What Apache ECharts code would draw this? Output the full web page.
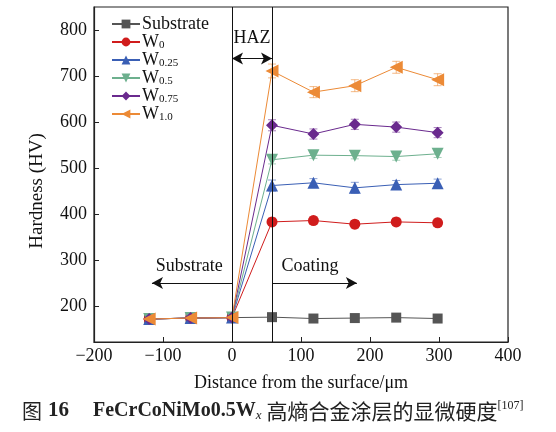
<!DOCTYPE html>
<html><head><meta charset="utf-8">
<script src="https://cdn.jsdelivr.net/npm/echarts@6/dist/echarts.min.js"></script>
<style>html,body{margin:0;padding:0;background:#fff}#c{width:556px;height:432px}</style>
</head><body><div id="c"></div>
<script>
const xPositions = [-120, -60, 0, 58, 118, 178, 238, 298];
const seriesNames = ['Substrate', 'W0', 'W0.25', 'W0.5', 'W0.75', 'W1.0'];
const substrate = [172, 174, 175, 176, 173, 174, 175, 173];
const w0    = [172, 174, 175, 383, 386, 378, 383, 381];
const w025  = [172, 174, 175, 462, 468, 457, 464, 467];
const w05   = [172, 174, 175, 518, 528, 527, 525, 531];
const w075  = [172, 174, 175, 593, 574, 595, 589, 577];
const w10   = [172, 174, 175, 711, 665, 679, 719, 692];
const errSubstrate = [4, 4, 4, 4, 4, 4, 4, 4];
const err0   = [4, 4, 4, 8, 8, 8, 8, 8];
const err025 = [4, 4, 4, 12, 9, 12, 9, 9];
const err05  = [4, 4, 4, 9, 7, 7, 8, 8];
const err075 = [4, 4, 4, 12, 11, 11, 11, 11];
const err10  = [4, 4, 4, 15, 12, 13, 13, 13];
const yTicks = [200, 300, 400, 500, 600, 700, 800];

const allValues = [substrate, w0, w025, w05, w075, w10];
const allErrors = [errSubstrate, err0, err025, err05, err075, err10];
const colors = ['#555555', '#d01c1c', '#3a5fb5', '#6db08e', '#6a2a8e', '#ec8a36'];
const symbols = ['rect', 'circle', 'triangle', 'triangle', 'diamond', 'triangle'];
const rotates = [0, 0, 0, 180, 0, 90];
const sizes = [10, 11, 12, 12, 12, 13];

const serif = '"Liberation Serif","DejaVu Serif",serif';

const series = [];
allValues.forEach((vals, i) => {
  series.push({
    type: 'custom',
    name: seriesNames[i] + '_err',
    silent: true,
    z: 1,
    data: xPositions.map((x, k) => [x, vals[k] - allErrors[i][k], vals[k] + allErrors[i][k]]),
    encode: { x: 0, y: [1, 2] },
    renderItem: (params, api) => {
      const lo = api.coord([api.value(0), api.value(1)]);
      const hi = api.coord([api.value(0), api.value(2)]);
      const w = 4;
      const st = { stroke: colors[i], lineWidth: 1, opacity: 0.6 };
      return { type: 'group', children: [
        { type: 'line', shape: { x1: lo[0], y1: lo[1], x2: hi[0], y2: hi[1] }, style: st },
        { type: 'line', shape: { x1: lo[0] - w, y1: lo[1], x2: lo[0] + w, y2: lo[1] }, style: st },
        { type: 'line', shape: { x1: hi[0] - w, y1: hi[1], x2: hi[0] + w, y2: hi[1] }, style: st }
      ]};
    }
  });
});
allValues.forEach((vals, i) => {
  series.push({
    type: 'line',
    name: seriesNames[i],
    data: xPositions.map((x, k) => [x, vals[k]]),
    symbol: symbols[i],
    symbolSize: sizes[i],
    symbolRotate: rotates[i],
    showAllSymbol: true,
    z: 3,
    lineStyle: { color: colors[i], width: 1 },
    itemStyle: { color: colors[i] },
    emphasis: { disabled: true }
  });
});

series.push({
  type: 'line',
  name: 'annot',
  data: [],
  silent: true,
  markLine: {
    silent: true,
    animation: false,
    symbol: ['none', 'none'],
    label: { show: false },
    lineStyle: { color: '#111', width: 1, type: 'solid' },
    data: [
      { xAxis: 0 },
      { xAxis: 58 },
      [{ coord: [0, 738], symbol: 'arrow', symbolSize: [9, 11] }, { coord: [58, 738], symbol: 'arrow', symbolSize: [9, 11] }],
      [{ coord: [0, 250], symbol: 'none' }, { coord: [-116, 250], symbol: 'arrow', symbolSize: [9, 11] }],
      [{ coord: [58, 250], symbol: 'none' }, { coord: [181, 250], symbol: 'arrow', symbolSize: [9, 11] }]
    ]
  },
  markPoint: {
    silent: true,
    animation: false,
    symbol: 'circle',
    symbolSize: 1,
    itemStyle: { color: 'rgba(0,0,0,0)' },
    label: { show: true, position: 'inside', color: '#111', fontFamily: serif, fontSize: 18, formatter: p => p.name },
    data: [
      { name: 'HAZ', coord: [29, 781] },
      { name: 'Substrate', coord: [-62, 286] },
      { name: 'Coating', coord: [113, 286] }
    ]
  }
});

const chart = echarts.init(document.getElementById('c'), null, { renderer: 'canvas' });
const legendFmt = {
  'Substrate': 'Substrate',
  'W0': '{m|W}{s|0}',
  'W0.25': '{m|W}{s|0.25}',
  'W0.5': '{m|W}{s|0.5}',
  'W0.75': '{m|W}{s|0.75}',
  'W1.0': '{m|W}{s|1.0}'
};
chart.setOption({
  animation: false,
  backgroundColor: '#fff',
  grid: { left: 94, right: 48, top: 7, bottom: 90, show: true, borderColor: '#222', borderWidth: 1.2 },
  legend: {
    data: seriesNames,
    orient: 'vertical',
    left: 108, top: 12,
    itemWidth: 28, itemHeight: 11, itemGap: 0,
    padding: 3,
    selectedMode: false,
    textStyle: {
      fontFamily: serif, fontSize: 18, color: '#111', padding: [0, 0, 0, -3], lineHeight: 18, height: 18,
      rich: {
        m: { fontFamily: serif, fontSize: 18, color: '#111', lineHeight: 18 },
        s: { fontFamily: serif, fontSize: 11, color: '#111', verticalAlign: 'bottom', lineHeight: 14, padding: [0, 0, 0, 0] }
      }
    },
    formatter: n => legendFmt[n]
  },
  xAxis: {
    type: 'value', min: -200, max: 400, interval: 100,
    name: 'Distance from the surface/μm', nameLocation: 'middle', nameGap: 32,
    nameTextStyle: { fontFamily: serif, fontSize: 18, color: '#111' },
    axisLine: { show: true, onZero: false, lineStyle: { color: '#222', width: 1.2 } },
    axisTick: { show: true, inside: true, length: 5, lineStyle: { color: '#222' } },
    axisLabel: { fontFamily: serif, fontSize: 18, color: '#111', margin: 5, formatter: v => String(v).replace('-', '−') },
    splitLine: { show: false }
  },
  yAxis: {
    type: 'value', min: 122, max: 850,
    axisLine: { show: true, onZero: false, lineStyle: { color: '#222', width: 1.2 } },
    axisTick: { show: true, inside: true, length: 5, customValues: yTicks, lineStyle: { color: '#222' } },
    axisLabel: { fontFamily: serif, fontSize: 18, color: '#111', margin: 7, customValues: yTicks },
    splitLine: { show: false }
  },
  graphic: [{
    type: 'text', x: 37, y: 191, rotation: Math.PI / 2,
    style: { text: 'Hardness (HV)', fontFamily: serif, fontSize: 19, fill: '#111', align: 'center', verticalAlign: 'middle' }
  }, {
    type: 'text', left: 22, top: 400,
    style: {
      text: '{cn|图}{n|16}{f|FeCrCoNiMo0.5W}{i|x}{c2|高熵合金涂层的显微硬度}{sup|[107]}',
      rich: {
        cn: { fontFamily: '"Noto Sans CJK SC",sans-serif', fontSize: 20, fill: '#222' },
        n: { fontFamily: serif, fontSize: 21, fontWeight: 'bold', fill: '#222', padding: [0, 0, 0, 6] },
        f: { fontFamily: serif, fontSize: 20, fontWeight: 'bold', fill: '#222', padding: [0, 0, 0, 24] },
        i: { fontFamily: serif, fontSize: 13, fontStyle: 'italic', fill: '#222', verticalAlign: 'bottom', padding: [9, 0, 0, 0] },
        c2: { fontFamily: '"Noto Sans CJK SC",sans-serif', fontSize: 21, fill: '#222', padding: [0, 0, 0, 5] },
        sup: { fontFamily: serif, fontSize: 12, fill: '#222', verticalAlign: 'top', padding: [0, 0, 10, 0] }
      }
    }
  }],
  series: series
});
</script></body></html>
